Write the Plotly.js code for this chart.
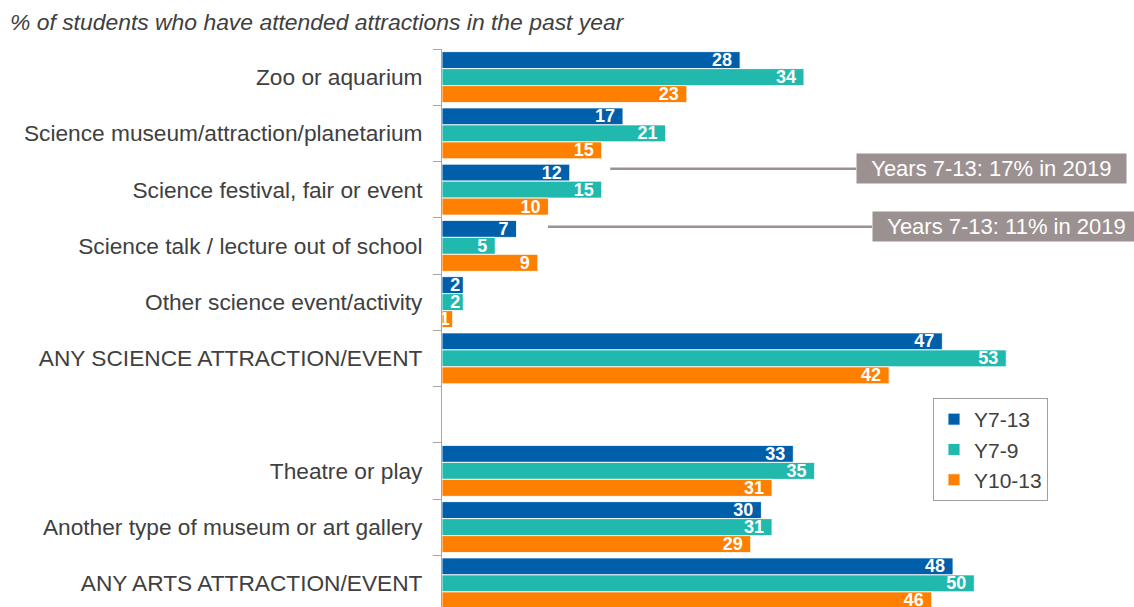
<!DOCTYPE html>
<html>
<head>
<meta charset="utf-8">
<script src="https://cdn.plot.ly/plotly-3.0.1.min.js"></script>
<style>html,body{margin:0;padding:0;background:#fff;}#chart{width:1134px;height:607px;}</style>
</head>
<body>
<div id="chart"></div>
<script>
const categories = [
  "Zoo or aquarium",
  "Science museum/attraction/planetarium",
  "Science festival, fair or event",
  "Science talk / lecture out of school",
  "Other science event/activity",
  "ANY SCIENCE ATTRACTION/EVENT",
  " ",
  "Theatre or play",
  "Another type of museum or art gallery",
  "ANY ARTS ATTRACTION/EVENT"
];
const seriesNames = ["Y7-13", "Y7-9", "Y10-13"];
const valsY7_13  = [28, 17, 12, 7, 2, 47, null, 33, 30, 48];
const valsY7_9   = [34, 21, 15, 5, 2, 53, null, 35, 31, 50];
const valsY10_13 = [23, 15, 10, 9, 1, 42, null, 31, 29, 46];
const colors = ["#005FAA", "#21B9AD", "#FF7F00"];
const noteTexts = ["Years 7-13: 17% in 2019", "Years 7-13: 11% in 2019"];

const allVals = [valsY7_13, valsY7_9, valsY10_13];
const NB = "\u00a0";
const traces = allVals.map((v, i) => ({
  type: "bar",
  orientation: "h",
  name: seriesNames[i],
  y: categories,
  x: v,
  marker: {color: colors[i], line: {color: "rgba(255,255,255,0.85)", width: 1}},
  text: v.map(d => d == null ? "" : (d >= 3 ? d + NB : String(d))),
  textposition: "inside",
  insidetextanchor: "end",
  textangle: 0,
  constraintext: "none",
  textfont: {family: "Liberation Sans, Arial, sans-serif", size: 18, color: "#ffffff", weight: "bold"},
  hoverinfo: "x+y+name",
  cliponaxis: false
}));

const annFont = {family: "Liberation Sans, Arial, sans-serif", size: 22, color: "#ffffff"};
const layout = {
  width: 1134,
  height: 607,
  margin: {l: 442, r: 0, t: 49, b: 0, pad: 0},
  paper_bgcolor: "#ffffff",
  plot_bgcolor: "#ffffff",
  barmode: "group",
  bargap: 0.094,
  bargroupgap: 0,
  font: {family: "Liberation Sans, Arial, sans-serif", color: "#404040"},
  title: {
    text: "<i>% of students who have attended attractions in the past year</i>",
    font: {family: "Liberation Sans, Arial, sans-serif", size: 22.9, color: "#404040"},
    xref: "container", yref: "container",
    x: 10 / 1134, xanchor: "left",
    y: 1 - 22 / 607, yanchor: "middle",
    pad: {l: 0, r: 0, t: 0, b: 0},
    automargin: false
  },
  xaxis: {
    range: [0, 65.0],
    visible: false,
    showgrid: false,
    zeroline: false
  },
  yaxis: {
    type: "category",
    categoryorder: "array",
    categoryarray: categories,
    range: [9.42, -0.5],
    showline: true,
    linecolor: "#a6a6a6",
    linewidth: 1,
    ticks: "outside",
    tickson: "boundaries",
    ticklen: 8,
    tickcolor: "#a6a6a6",
    tickwidth: 1,
    ticklabelstandoff: 14,
    showgrid: false,
    zeroline: false,
    tickfont: {family: "Liberation Sans, Arial, sans-serif", size: 22.7, color: "#404040"},
    automargin: false,
    fixedrange: true
  },
  legend: {
    x: (933 - 442) / 692, xanchor: "left",
    y: 1 - (398 - 49) / 558, yanchor: "top",
    bgcolor: "#ffffff",
    bordercolor: "#a0a0a0",
    borderwidth: 1,
    traceorder: "normal",
    font: {family: "Liberation Sans, Arial, sans-serif", size: 21, color: "#404040"},
    itemwidth: 30
  },
  shapes: [
    {type: "line", xref: "x", yref: "y", x0: 15.8, x1: 38.9, y0: 1.63, y1: 1.63, line: {color: "#9c9191", width: 2.5}},
    {type: "line", xref: "x", yref: "y", x0: 9.96, x1: 40.4, y0: 2.66, y1: 2.66, line: {color: "#9c9191", width: 2.5}}
  ],
  annotations: [
    {xref: "x", yref: "y", x: 38.9, y: 1.63, xanchor: "left", yanchor: "middle", showarrow: false,
     text: NB + NB + noteTexts[0] + NB + NB, font: annFont, bgcolor: "#9c9191", borderpad: 2},
    {xref: "x", yref: "y", x: 40.4, y: 2.66, xanchor: "left", yanchor: "middle", showarrow: false,
     text: NB + NB + noteTexts[1] + NB, font: annFont, bgcolor: "#9c9191", borderpad: 2}
  ]
};

Plotly.newPlot("chart", traces, layout, {displayModeBar: false, staticPlot: true});
</script>
</body>
</html>
